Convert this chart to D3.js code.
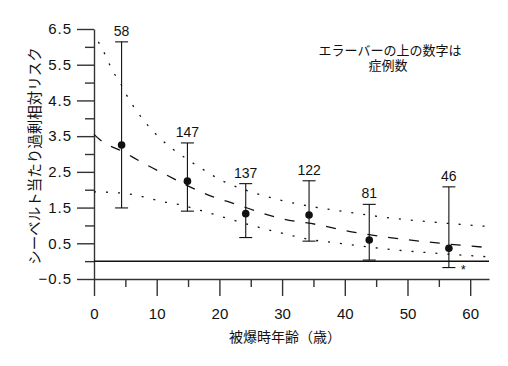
<!DOCTYPE html>
<html>
<head>
<meta charset="utf-8">
<script src="https://cdn.jsdelivr.net/npm/d3@7"></script>
<style>
  body { margin: 0; background: #fff; }
  svg { display: block; font-family: "Liberation Sans", Arial, "Noto Sans CJK JP", sans-serif; }
</style>
</head>
<body>
<div id="chart"></div>
<script>
// Age at exposure groups with excess relative risk per Sv and error bars
const ages = [4.4, 14.9, 24.2, 34.3, 43.9, 56.6];
const risk = [3.25, 2.24, 1.33, 1.29, 0.59, 0.36];
const errLow = [1.49, 1.40, 0.66, 0.56, 0.03, -0.18];
const errHigh = [6.14, 3.31, 2.17, 2.25, 1.59, 2.08];
const cases = [58, 147, 137, 122, 81, 46];

// Fitted curve (dashed)
const fitAge = [0, 1, 4.7, 7.9, 11.6, 15.3, 19, 22.2, 29.7, 36, 40.3, 47.2, 54.7, 62.9];
const fitVal = [3.55, 3.39, 3.06, 2.74, 2.41, 2.08, 1.80, 1.62, 1.20, 1.01, 0.85, 0.66, 0.51, 0.38];

// Confidence bounds (dotted)
const upAge = [0.7, 2, 2.8, 4.1, 5.2, 8.4, 10.3, 12.4, 14.8, 16.9, 20.6, 25.4, 29.7, 35, 40.3, 47.2, 53.6, 62.9];
const upVal = [6.14, 5.70, 5.38, 5.02, 4.65, 3.84, 3.48, 3.16, 2.86, 2.62, 2.24, 1.92, 1.71, 1.52, 1.38, 1.21, 1.10, 0.97];
const lowAge = [0, 4.7, 7.9, 11.1, 13.2, 15.8, 17.4, 22.2, 29.1, 35, 39.2, 41.4, 48.3, 54.7, 62.9];
const lowVal = [1.94, 1.90, 1.80, 1.66, 1.60, 1.48, 1.40, 1.15, 0.82, 0.59, 0.50, 0.45, 0.31, 0.22, 0.12];

const yMajor = [-0.5, 0.5, 1.5, 2.5, 3.5, 4.5, 5.5, 6.5];
const yMinor = [0, 1, 2, 3, 4, 5, 6];
const xMajor = [0, 10, 20, 30, 40, 50, 60];
const xMinor = [5, 15, 25, 35, 45, 55];

const star = {age: 58.9, val: -0.14};

const width = 508, height = 366;

const x = d3.scaleLinear().domain([0, 63]).range([94, 489]);
const y = d3.scaleLinear().domain([-0.5, 6.5]).range([279, 29]);

const svg = d3.select("#chart")
    .append("svg")
    .attr("width", width)
    .attr("height", height);

svg.append("rect").attr("width", width).attr("height", height).attr("fill", "#fff");

// Axes
const yAxis = svg.append("g")
    .attr("transform", "translate(94,0)")
    .call(d3.axisLeft(y).tickValues(yMajor).tickSize(17).tickSizeOuter(0).tickPadding(5)
        .tickFormat(d3.format(".1f")));
yAxis.selectAll(".tick text").style("letter-spacing", "1px");

const yAxisMinor = svg.append("g")
    .attr("transform", "translate(94,0)")
    .call(d3.axisLeft(y).tickValues(yMinor).tickSize(9).tickFormat(""));
yAxisMinor.select(".domain").remove();

const xAxis = svg.append("g")
    .attr("transform", "translate(0,279)")
    .call(d3.axisBottom(x).tickValues(xMajor).tickSize(17).tickSizeOuter(0).tickPadding(12));

const xAxisMinor = svg.append("g")
    .attr("transform", "translate(0,279)")
    .call(d3.axisBottom(x).tickValues(xMinor).tickSize(8).tickFormat(""));
xAxisMinor.select(".domain").remove();

svg.selectAll(".domain, .tick line")
    .attr("stroke", "#333")
    .attr("stroke-width", 1.4);
svg.selectAll(".tick text")
    .attr("fill", "#111")
    .style("font-size", "15px");

// Zero line
svg.append("line")
    .attr("x1", x(0)).attr("x2", x(63))
    .attr("y1", y(0)).attr("y2", y(0))
    .attr("stroke", "#111")
    .attr("stroke-width", 1.5);

// Curves
const line = d3.line().curve(d3.curveMonotoneX).x(d => x(d[0])).y(d => y(d[1]));

svg.append("path")
    .datum(d3.zip(fitAge, fitVal))
    .attr("d", line)
    .attr("fill", "none")
    .attr("stroke", "#111")
    .attr("stroke-width", 1.3)
    .attr("stroke-dasharray", "10,11");

[[upAge, upVal], [lowAge, lowVal]].forEach(function(c) {
    svg.append("path")
        .datum(d3.zip(c[0], c[1]))
        .attr("d", line)
        .attr("fill", "none")
        .attr("stroke", "#111")
        .attr("stroke-width", 1.3)
        .attr("stroke-dasharray", "2,10");
});

// Error bars
const groups = svg.selectAll(".bar")
    .data(ages.map((a, i) => ({age: a, val: risk[i], lo: errLow[i], hi: errHigh[i], n: cases[i]})))
    .enter()
    .append("g")
    .attr("class", "bar");

groups.append("line")
    .attr("x1", d => x(d.age)).attr("x2", d => x(d.age))
    .attr("y1", d => y(d.lo)).attr("y2", d => y(d.hi))
    .attr("stroke", "#111").attr("stroke-width", 1.1);

groups.append("line")
    .attr("x1", d => x(d.age) - 6.5).attr("x2", d => x(d.age) + 6.5)
    .attr("y1", d => y(d.hi)).attr("y2", d => y(d.hi))
    .attr("stroke", "#111").attr("stroke-width", 1.1);

groups.append("line")
    .attr("x1", d => x(d.age) - 6.5).attr("x2", d => x(d.age) + 6.5)
    .attr("y1", d => y(d.lo)).attr("y2", d => y(d.lo))
    .attr("stroke", "#111").attr("stroke-width", 1.1);

groups.append("circle")
    .attr("cx", d => x(d.age))
    .attr("cy", d => y(d.val))
    .attr("r", 3.8)
    .attr("fill", "#111");

groups.append("text")
    .attr("x", d => x(d.age))
    .attr("y", d => y(d.hi) - 6)
    .attr("text-anchor", "middle")
    .style("font-size", "14px")
    .attr("fill", "#111")
    .text(d => d.n);

svg.append("text")
    .attr("x", x(star.age))
    .attr("y", y(star.val) + 8)
    .attr("text-anchor", "middle")
    .style("font-size", "13px")
    .attr("fill", "#111")
    .text("*");

// Note
svg.append("text")
    .attr("x", 390).attr("y", 55)
    .attr("text-anchor", "middle")
    .style("font-size", "13px")
    .attr("fill", "#111")
    .text("エラーバーの上の数字は");

svg.append("text")
    .attr("x", 388).attr("y", 70)
    .attr("text-anchor", "middle")
    .style("font-size", "13px")
    .attr("fill", "#111")
    .text("症例数");

// Labels
svg.append("text")
    .attr("x", 285)
    .attr("y", 337)
    .attr("text-anchor", "middle")
    .attr("dominant-baseline", "central")
    .style("font-size", "14px")
    .attr("fill", "#111")
    .text("被爆時年齢（歳）");

svg.append("text")
    .attr("transform", "rotate(-90)")
    .attr("x", -156)
    .attr("y", 35)
    .attr("text-anchor", "middle")
    .attr("dominant-baseline", "central")
    .style("font-size", "14.5px")
    .attr("fill", "#111")
    .text("シーベルト当たり過剰相対リスク");
</script>
</body>
</html>
